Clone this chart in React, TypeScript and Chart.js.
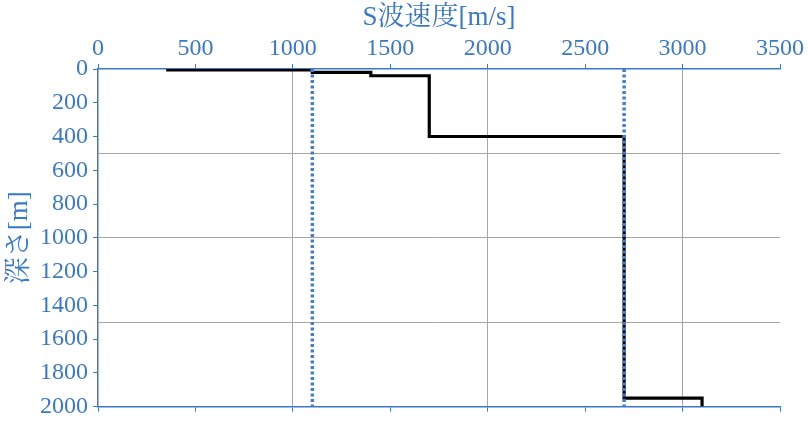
import React, { useEffect, useRef } from 'react';
import { Chart, registerables, ChartConfiguration } from 'chart.js';

Chart.register(...registerables);

// S-wave velocity profile (step line)
const velocity = [350, 1100, 1100, 1400, 1400, 1700, 1700, 2700, 2700, 3100, 3100];
const depth = [5, 5, 20, 20, 40, 40, 400, 400, 1950, 1950, 2000];

// dotted reference velocities
const refVelocities = [1100, 2700];
const refDepths = [0, 2000];

const xTicks = { min: 0, max: 3500, step: 500 };
const yTicks = { min: 0, max: 2000, step: 200 };

const BLUE = '#3a78c8';
const DOT_BLUE = '#3f7fd6';
const GRID = '#a6a6a6';
const FONT = "'Liberation Serif', 'Times New Roman', 'Noto Serif CJK JP', 'Noto Sans CJK JP', serif";

const App: React.FC = () => {
  const chartRef = useRef<HTMLCanvasElement | null>(null);

  useEffect(() => {
    if (!chartRef.current) return;
    const ctx = chartRef.current.getContext('2d');
    if (!ctx) return;

    const refSets = refVelocities.map((v) => ({
      data: refDepths.map((d) => ({ x: v, y: d })),
      borderColor: DOT_BLUE,
      borderWidth: 3.5,
      borderDash: [3, 2.5],
      pointRadius: 0,
      xAxisID: 'x',
      yAxisID: 'y',
    }));

    const config: ChartConfiguration = {
      type: 'line',
      data: {
        datasets: [
          ...refSets,
          {
            data: velocity.map((v, i) => ({ x: v, y: depth[i] })),
            borderColor: '#000000',
            borderWidth: 3.2,
            pointRadius: 0,
            xAxisID: 'x',
            yAxisID: 'y',
          },
        ] as any,
      },
      options: {
        animation: false,
        responsive: true,
        maintainAspectRatio: false,
        layout: { padding: { left: 0, right: 30, top: 0, bottom: 0 } },
        plugins: { legend: { display: false }, tooltip: { enabled: false } },
        scales: {
          x: {
            type: 'linear',
            position: 'top',
            min: xTicks.min,
            max: xTicks.max,
            afterFit: (s: any) => {
              s.height = 69;
            },
            ticks: {
              stepSize: xTicks.step,
              color: BLUE,
              font: { family: FONT, size: 24 },
              padding: 1,
              maxRotation: 0,
              autoSkip: false,
              callback: (v: any) => String(v),
            },
            grid: {
              color: (c: any) =>
                c.tick && c.tick.value % 1000 === 0 && c.tick.value > 0 ? GRID : 'rgba(0,0,0,0)',
              tickColor: BLUE,
              tickLength: 5,
            },
            border: { color: BLUE, width: 1.5 },
            title: {
              display: true,
              text: 'S波速度[m/s]',
              color: BLUE,
              font: { family: FONT, size: 27 },
              padding: { top: 2, bottom: 0 },
            },
          },
          x2: {
            type: 'linear',
            position: 'bottom',
            min: xTicks.min,
            max: xTicks.max,
            afterFit: (s: any) => {
              s.height = 17;
            },
            ticks: { stepSize: xTicks.step, display: false },
            grid: { drawOnChartArea: false, tickColor: BLUE, tickLength: 5 },
            border: { color: BLUE, width: 1.5 },
          },
          y: {
            type: 'linear',
            reverse: true,
            min: yTicks.min,
            max: yTicks.max,
            afterFit: (s: any) => {
              s.width = 98;
            },
            ticks: {
              stepSize: 100,
              autoSkip: false,
              color: BLUE,
              font: { family: FONT, size: 24 },
              padding: 5,
              callback: (v: any) => (Number(v) % yTicks.step === 0 ? String(v) : ''),
            },
            grid: {
              color: (c: any) =>
                c.tick && c.tick.value % 500 === 0 && c.tick.value > 0 && c.tick.value < 2000
                  ? GRID
                  : 'rgba(0,0,0,0)',
              tickColor: (c: any) =>
                c.tick && c.tick.value % yTicks.step === 0 ? BLUE : 'rgba(0,0,0,0)',
              tickLength: 5,
            },
            border: { color: BLUE, width: 1.5 },
            title: {
              display: true,
              text: '深さ[m]',
              color: BLUE,
              font: { family: FONT, size: 27 },
              padding: { top: 4, bottom: 0 },
            },
          },
        },
      },
    };

    const chart = new Chart(ctx, config);
    return () => {
      chart.destroy();
    };
  }, []);

  return (
    <div style={{ position: 'absolute', left: 0, top: 0, width: 810, height: 426, background: '#ffffff' }}>
      <canvas ref={chartRef}></canvas>
    </div>
  );
};

export default App;
